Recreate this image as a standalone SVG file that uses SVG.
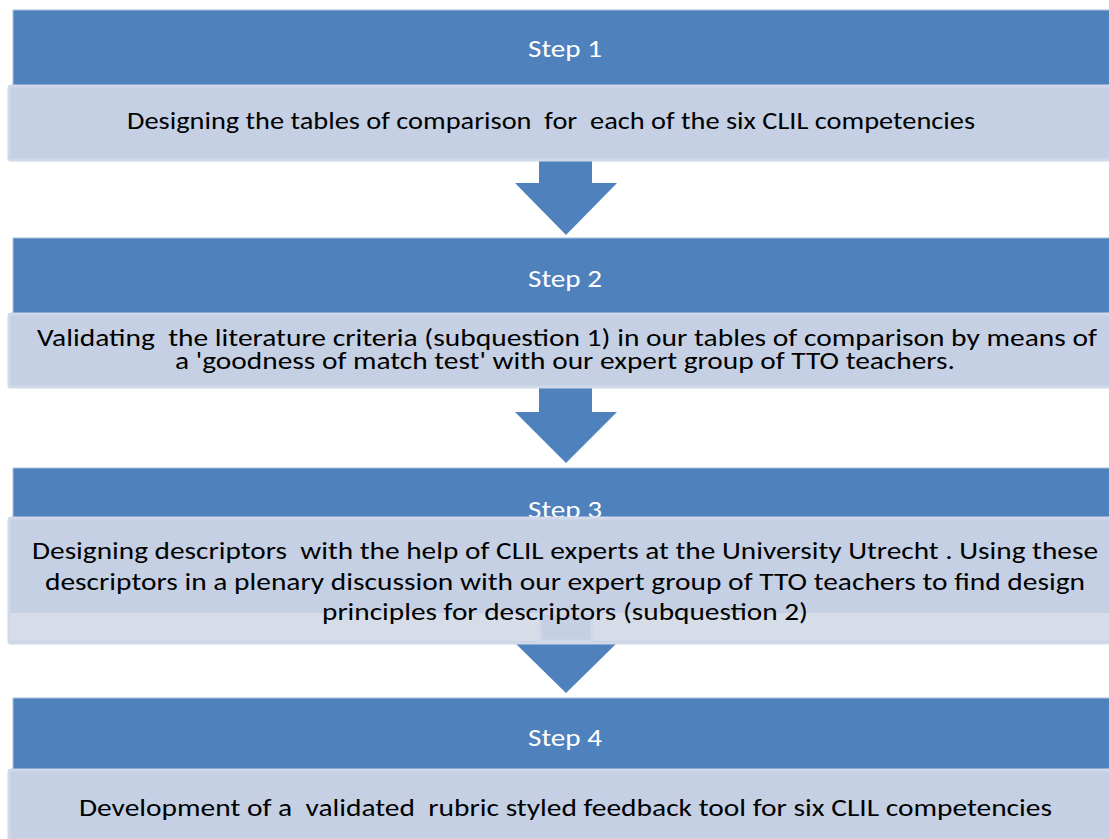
<svg xmlns="http://www.w3.org/2000/svg" width="1109" height="839" viewBox="0 0 1109 839">
<style>
.hdr{fill:#4f81bd;stroke:#a9bfdd;stroke-width:1}
.body{fill:#c5d0e4;stroke:#d0d8e9;stroke-width:3}
.strip{fill:#d6dde9}
.arrow{fill:#4f81bd}
.step{font-family:Carlito,Calibri,"Open Sans",sans-serif;font-size:25px;fill:#ffffff;white-space:pre}
.txt{font-family:Carlito,Calibri,"Open Sans",sans-serif;font-size:25px;fill:#000000;white-space:pre}
</style>
<g id="connectors">
<polygon class="arrow" points="539,158 592,158 592,183 617,183 566,235 515,183 539,183"/>
<polygon class="arrow" points="539,385 592,385 592,412 617,412 566,463 515,412 539,412"/>
<polygon class="arrow" points="540,640 592,640 592,643 617,643 566,693 515,643 540,643"/>
</g>
<g id="step1">
<rect class="hdr" x="13" y="10" width="1110" height="76"/>
<text class="step" x="528" y="57" textLength="74" lengthAdjust="spacingAndGlyphs">Step 1</text>
<rect class="body" x="9" y="86" width="1110" height="74" rx="2"/>
<text class="txt" x="127" y="129" textLength="848" lengthAdjust="spacingAndGlyphs" xml:space="preserve">Designing the tables of comparison  for  each of the six CLIL competencies</text>
</g>
<g id="step2">
<rect class="hdr" x="13" y="238" width="1110" height="76"/>
<text class="step" x="528" y="287" textLength="74" lengthAdjust="spacingAndGlyphs">Step 2</text>
<rect class="body" x="9" y="314" width="1110" height="73" rx="2"/>
<text class="txt" x="37" y="346" textLength="1060" lengthAdjust="spacingAndGlyphs" xml:space="preserve">Validating  the literature criteria (subquestion 1) in our tables of comparison by means of</text>
<text class="txt" x="175" y="369" textLength="780" lengthAdjust="spacingAndGlyphs" xml:space="preserve">a 'goodness of match test' with our expert group of TTO teachers.</text>
</g>
<g id="step3">
<rect class="hdr" x="13" y="468" width="1110" height="50"/>
<text class="step" x="528" y="518" textLength="74" lengthAdjust="spacingAndGlyphs">Step 3</text>
<rect class="body" x="9" y="518" width="1110" height="125" rx="2"/>
<rect class="strip" x="10" y="613" width="1110" height="28"/>
<rect class="body" x="540" y="613" width="52" height="28" stroke="none"/>
<text class="txt" x="32" y="559" textLength="1066" lengthAdjust="spacingAndGlyphs" xml:space="preserve">Designing descriptors  with the help of CLIL experts at the University Utrecht . Using these</text>
<text class="txt" x="45" y="590" textLength="1040" lengthAdjust="spacingAndGlyphs" xml:space="preserve">descriptors in a plenary discussion with our expert group of TTO teachers to find design</text>
<text class="txt" x="322" y="620" textLength="486" lengthAdjust="spacingAndGlyphs" xml:space="preserve">principles for descriptors (subquestion 2)</text>
</g>
<g id="step4">
<rect class="hdr" x="13" y="698" width="1110" height="72"/>
<text class="step" x="528" y="746" textLength="74" lengthAdjust="spacingAndGlyphs">Step 4</text>
<rect class="body" x="9" y="770" width="1110" height="80" rx="2"/>
<text class="txt" x="79" y="816" textLength="973" lengthAdjust="spacingAndGlyphs" xml:space="preserve">Development of a  validated  rubric styled feedback tool for six CLIL competencies</text>
</g>
</svg>
